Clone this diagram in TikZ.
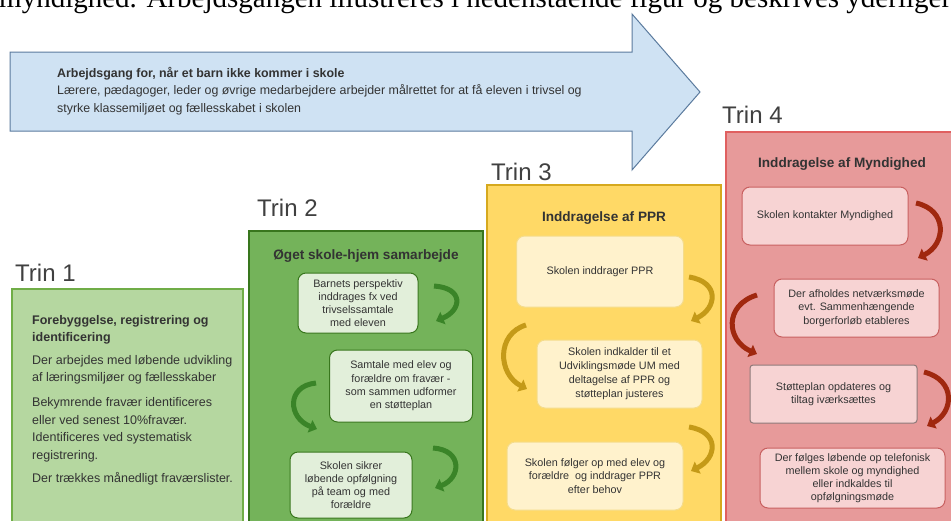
\documentclass[tikz,border=0pt]{standalone}
\usepackage{fontspec}
\setmainfont{Liberation Sans}
\newfontfamily\serifx{Liberation Serif}
\usetikzlibrary{arrows.meta}
\definecolor{arrowfill}{HTML}{CFE2F3}
\definecolor{arrowline}{HTML}{5B7B9E}
\definecolor{txt}{HTML}{333333}
\definecolor{trinlbl}{HTML}{404040}
\definecolor{gAfill}{HTML}{B5D7A0}
\definecolor{gAline}{HTML}{70AD47}
\definecolor{gBfill}{HTML}{74B35A}
\definecolor{gBline}{HTML}{38761D}
\definecolor{gBin}{HTML}{E2EFDA}
\definecolor{gBarrow}{HTML}{3A8428}
\definecolor{yCfill}{HTML}{FFD966}
\definecolor{yCline}{HTML}{D6A91E}
\definecolor{yCin}{HTML}{FFF2CC}
\definecolor{yCinline}{HTML}{F5DC8A}
\definecolor{yCarrow}{HTML}{C49A18}
\definecolor{rDfill}{HTML}{E79A9A}
\definecolor{rDline}{HTML}{E06060}
\definecolor{rDin}{HTML}{F7D3D3}
\definecolor{rDinline}{HTML}{C86060}
\definecolor{rDarrow}{HTML}{A0280F}
\tikzset{
  trinlabel/.style={anchor=base west, inner sep=0, text=trinlbl, font=\fontsize{24}{24}\selectfont},
  stagebox/.style={anchor=north west, inner sep=0, outer sep=0, line width=1.6pt},
  stagetitle/.style={inner sep=0, text=txt, font=\bfseries\fontsize{13.6}{15}\selectfont},
  innerbox/.style={rounded corners=8pt, inner sep=2pt, align=center, text=txt, line width=1pt,
     font=\fontsize{10.8}{13.2}\selectfont},
  curv/.style={line width=5pt, draw=#1, line cap=butt, -{Triangle[length=7.5pt,width=13pt]}}
}
\begin{document}
\begin{tikzpicture}[x=1pt,y=-1pt]
\useasboundingbox (0,0) rectangle (951,520);
\clip (0,0) rectangle (951,520);
\fill[white] (0,0) rectangle (951,520);

% top cut line of running text
\node[anchor=base west, inner sep=0, font=\serifx\fontsize{29}{29}\selectfont] (toptext) at (-1,7)
  {myndighed. Arbejdsgangen illustreres i nedenstående figur og beskrives yderliger};

% big arrow
\draw[fill=arrowfill, draw=arrowline, line width=1pt] (10,52) -- (632,52) -- (632,14) -- (700,92)
   -- (632,170) -- (632,131) -- (10,131) -- cycle;
\node[anchor=north west, inner sep=0, align=left, text=txt, font=\fontsize{12.4}{17.5}\selectfont] (arrowtext) at (57,67)
  {\textbf{Arbejdsgang for, når et barn ikke kommer i skole}\\
   Lærere, pædagoger, leder og øvrige medarbejdere arbejder målrettet for at få eleven i trivsel og\\
   styrke klassemiljøet og fællesskabet i skolen};

% labels
\node[trinlabel] (lab1) at (15,281.5) {Trin 1};
\node[trinlabel] (lab2) at (257,216.5) {Trin 2};
\node[trinlabel] (lab3) at (491,180.5) {Trin 3};
\node[trinlabel] (lab4) at (722,123.5) {Trin 4};

% stage boxes
\node[stagebox, fill=gAfill, draw=gAline, minimum width=231, minimum height=250] (s1) at (12,289) {};
\node[stagebox, fill=gBfill, draw=gBline, line width=2pt, minimum width=234, minimum height=300] (s2) at (249,231) {};
\node[stagebox, fill=yCfill, draw=yCline, minimum width=234, minimum height=345] (s3) at (487,185) {};
\node[stagebox, fill=rDfill, draw=rDline, minimum width=240, minimum height=400] (s4) at (726,132) {};

% Trin 1 text
\node[anchor=north west, inner sep=0, align=left, text=txt, font=\fontsize{12.5}{17.4}\selectfont] (t1text) at (32,315)
  {\textbf{Forebyggelse, registrering og}\\
   \textbf{identificering}\\[5.5pt]
   Der arbejdes med løbende udvikling\\
   af læringsmiljøer og fællesskaber\\[7.5pt]
   Bekymrende fravær identificeres\\
   eller ved senest 10\%fravær.\\
   Identificeres ved systematisk\\
   registrering.\\[6.5pt]
   Der trækkes månedligt fraværslister.};

% Trin 2
\node[stagetitle] (t2title) at (366,256) {Øget skole-hjem samarbejde};
\node[innerbox, fill=gBin, draw=gBline, minimum width=120, minimum height=60] (b21) at (358,303)
  {Barnets perspektiv\\inddrages fx ved\\trivselssamtale\\med eleven};
\node[innerbox, fill=gBin, draw=gBline, minimum width=143, minimum height=72] (b22) at (401,386)
  {Samtale med elev og\\forældre om fravær -\\som sammen udformer\\en støtteplan};
\node[innerbox, fill=gBin, draw=gBline, minimum width=122, minimum height=66] (b23) at (351,485)
  {Skolen sikrer\\løbende opfølgning\\på team og med\\forældre};
\coordinate (a21s) at (434,286); \coordinate (a21e) at (436,321);
\coordinate (a22s) at (316,383); \coordinate (a22e) at (317,429);
\coordinate (a23s) at (433,448); \coordinate (a23e) at (435,488);
\draw[curv=gBarrow] (a21s) .. controls (464,288) and (462,310) .. (a21e);
\draw[curv=gBarrow] (a22s) .. controls (286,386) and (288,418) .. (a22e);
\draw[curv=gBarrow] (a23s) .. controls (463,450) and (461,478) .. (a23e);

% Trin 3
\node[stagetitle] (t3title) at (604,218) {Inddragelse af PPR};
\node[innerbox, fill=yCin, draw=yCinline, minimum width=167, minimum height=71] (b31) at (600,271.5)
  {Skolen inddrager PPR};
\node[innerbox, fill=yCin, draw=yCinline, minimum width=165, minimum height=68,
      font=\fontsize{10.8}{14}\selectfont] (b32) at (619.5,374)
  {Skolen indkalder til et\\Udviklingsmøde UM med\\deltagelse af PPR og\\støtteplan justeres};
\node[innerbox, fill=yCin, draw=yCinline, minimum width=176, minimum height=68,
      font=\fontsize{10.8}{13.6}\selectfont] (b33) at (595,476)
  {Skolen følger op med elev og\\forældre~ og inddrager PPR\\efter behov};
\coordinate (a31s) at (689,277); \coordinate (a31e) at (691,321);
\coordinate (a32s) at (526,325); \coordinate (a32e) at (527,389);
\coordinate (a33s) at (689,427); \coordinate (a33e) at (691,471);
\draw[curv=yCarrow] (a31s) .. controls (720,282) and (717,308) .. (a31e);
\draw[curv=yCarrow] (a32s) .. controls (496,334) and (498,374) .. (a32e);
\draw[curv=yCarrow] (a33s) .. controls (720,432) and (717,458) .. (a33e);

% Trin 4
\node[stagetitle] (t4title) at (842,164) {Inddragelse af Myndighed};
\node[innerbox, fill=rDin, draw=rDinline, minimum width=166, minimum height=58] (b41) at (825,216)
  {Skolen kontakter Myndighed};
\node[innerbox, fill=rDin, draw=rDinline, minimum width=165, minimum height=58,
      font=\fontsize{10.8}{13.6}\selectfont] (b42) at (856.5,308)
  {Der afholdes netværksmøde\\evt. Sammenhængende\\borgerforløb etableres};
\node[innerbox, rounded corners=3pt, fill=rDin, draw=gray!80!rDinline, minimum width=167, minimum height=58,
      font=\fontsize{10.8}{13}\selectfont] (b43) at (833.5,394)
  {Støtteplan opdateres og\\tiltag iværksættes};
\node[innerbox, fill=rDin, draw=rDinline, minimum width=185, minimum height=60,
      font=\fontsize{10.8}{13}\selectfont] (b44) at (852.5,478)
  {Der følges løbende op telefonisk\\mellem skole og myndighed\\eller indkaldes til\\opfølgningsmøde};
\coordinate (a41s) at (916,203); \coordinate (a41e) at (918,258);
\coordinate (a42s) at (757,295); \coordinate (a42e) at (757,354);
\coordinate (a43s) at (924,372); \coordinate (a43e) at (927,426);
\draw[curv=rDarrow] (a41s) .. controls (948,210) and (946,244) .. (a41e);
\draw[curv=rDarrow] (a42s) .. controls (724,305) and (726,340) .. (a42e);
\draw[curv=rDarrow] (a43s) .. controls (956,380) and (954,412) .. (a43e);
\end{tikzpicture}
\end{document}
